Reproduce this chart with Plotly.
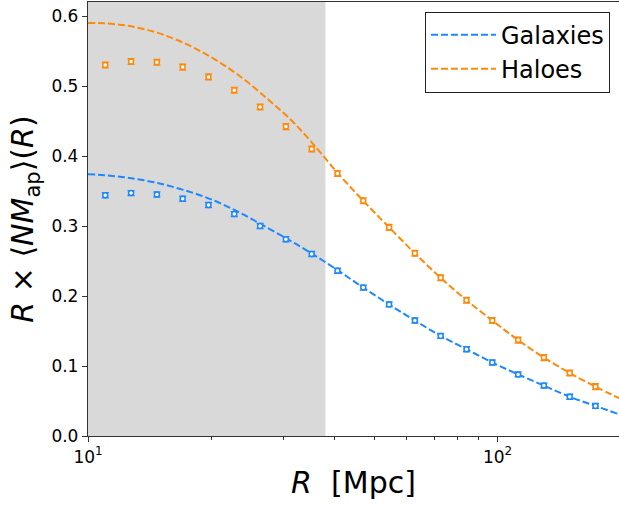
import plotly.graph_objects as go

# Aperture radii of the measured points [Mpc]
radius = [11.02, 12.74, 14.73, 17.03, 19.69, 22.76, 26.32, 30.43, 35.18, 40.67,
          47.01, 54.36, 62.84, 72.65, 84.0, 97.1, 112.3, 129.8, 150.1, 173.5]

# Measured R x <N M_ap>(R) with 1-sigma errors
galaxies = [0.344, 0.347, 0.345, 0.339, 0.330, 0.317, 0.300, 0.281, 0.260, 0.236,
            0.212, 0.188, 0.165, 0.143, 0.124, 0.105, 0.088, 0.072, 0.056, 0.043]
galaxies_err = [0.0035, 0.0035, 0.0035, 0.0035, 0.0035, 0.0035, 0.0035, 0.0035, 0.0035, 0.0035,
                0.0035, 0.0035, 0.0035, 0.0035, 0.0035, 0.0035, 0.0035, 0.0035, 0.0035, 0.0035]
haloes = [0.530, 0.535, 0.534, 0.527, 0.513, 0.494, 0.470, 0.442, 0.410, 0.375,
          0.336, 0.298, 0.261, 0.226, 0.194, 0.165, 0.137, 0.112, 0.090, 0.0705]
haloes_err = [0.004, 0.004, 0.004, 0.004, 0.004, 0.004, 0.004, 0.004, 0.004, 0.004,
              0.004, 0.004, 0.004, 0.004, 0.004, 0.004, 0.004, 0.004, 0.004, 0.004]

# Model predictions
model_radius = [10.0, 11.0, 12.5, 14.5, 17.0, 20.0, 23.5, 27.5, 31.0, 35.0, 40.67,
                47.01, 54.36, 62.84, 72.65, 84.0, 97.1, 112.3, 129.8, 150.1, 173.5, 198.0]
model_galaxies = [0.374, 0.3725, 0.369, 0.3625, 0.352, 0.338, 0.319, 0.297, 0.280, 0.2615, 0.237,
                  0.212, 0.188, 0.165, 0.143, 0.124, 0.105, 0.088, 0.072, 0.056, 0.043, 0.031]
model_haloes = [0.590, 0.5895, 0.586, 0.5775, 0.5625, 0.541, 0.514, 0.481, 0.454, 0.421, 0.376,
                0.336, 0.298, 0.261, 0.226, 0.194, 0.165, 0.137, 0.112, 0.090, 0.0705, 0.054]

# Small-scale region excluded from the fit
excluded_max = 38.0

x_ticks = [10, 100]
x_tick_text = ["10<sup>1</sup>", "10<sup>2</sup>"]
x_minor = [20, 30, 40, 50, 60, 70, 80, 90, 200]
y_ticks = [0.0, 0.1, 0.2, 0.3, 0.4, 0.5, 0.6]

BLUE = "#1E88FF"
ORANGE = "#FF8A0A"
FONT = "DejaVu Sans"

fig = go.Figure()

for name, ym, ys, ye, col in [
    ("Galaxies", model_galaxies, galaxies, galaxies_err, BLUE),
    ("Haloes", model_haloes, haloes, haloes_err, ORANGE),
]:
    fig.add_trace(go.Scatter(
        x=model_radius, y=ym, mode="lines", name=name,
        line=dict(color=col, width=2, dash="7px,3px", shape="spline", smoothing=1.0),
    ))
    fig.add_trace(go.Scatter(
        x=radius, y=ys, mode="markers", showlegend=False,
        marker=dict(symbol="circle", size=5, color="white", line=dict(color=col, width=1.5)),
        error_y=dict(type="data", array=ye, color=col, thickness=1.5, width=3.5),
    ))

fig.add_shape(type="rect", xref="x", yref="paper", x0=10, x1=excluded_max, y0=0, y1=1,
              fillcolor="rgb(217,217,217)", line=dict(width=0), layer="below")

fig.update_layout(
    width=619, height=505,
    margin=dict(l=88, r=0, t=2, b=69),
    paper_bgcolor="white", plot_bgcolor="white",
    font=dict(family=FONT, size=17, color="black"),
    showlegend=True,
    legend=dict(
        x=0.983, y=0.978, xanchor="right", yanchor="top",
        bordercolor="#222", borderwidth=1, bgcolor="white",
        font=dict(size=24), itemwidth=65, tracegroupgap=0,
    ),
    xaxis=dict(
        type="log", range=[1, 2.2967],
        tickvals=x_ticks, ticktext=x_tick_text,
        ticks="outside", ticklen=5, tickwidth=1, tickcolor="#333",
        minor=dict(tickvals=x_minor, ticks="outside", ticklen=3, tickwidth=1, tickcolor="#333"),
        showgrid=False, zeroline=False,
        showline=True, linecolor="#333", linewidth=1.3, mirror=True,
        title=dict(text="<i>R</i>  [Mpc]", font=dict(size=30), standoff=6),
    ),
    yaxis=dict(
        range=[0, 0.62], tickvals=y_ticks, tickformat=".1f",
        ticks="outside", ticklen=5, tickwidth=1, tickcolor="#333",
        showgrid=False, zeroline=False,
        showline=True, linecolor="#333", linewidth=1.3, mirror=False,
        title=dict(text="<i>R</i> × ⟨<i>NM</i><sub>ap</sub>⟩(<i>R</i>)", font=dict(size=30), standoff=8),
    ),
)

fig.write_html("out.html")
